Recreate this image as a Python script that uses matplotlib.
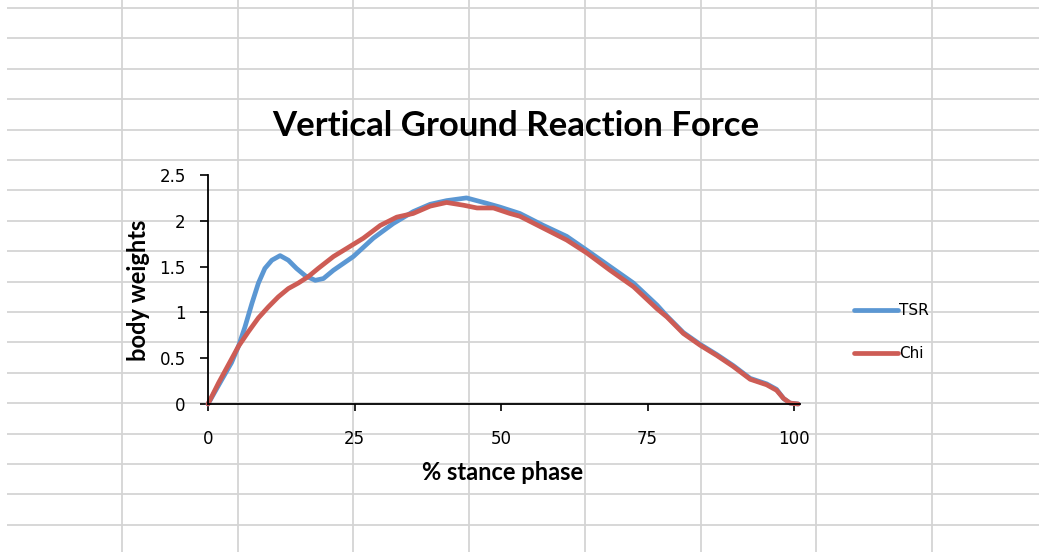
import matplotlib
matplotlib.use("Agg")
import matplotlib.pyplot as plt

# % stance phase vs body weights
tsr_x = [0, 2.3, 4.0, 5.2, 6.3, 7.5, 8.6, 9.7, 10.9, 12.3, 13.7, 15.1, 16.6, 18.3,
         19.7, 21.4, 24.8, 28.2, 31.6, 35.0, 37.9, 40.7, 44.1, 47.6, 49.8, 53.2,
         57.2, 61.2, 64.6, 68.6, 72.6, 76.6, 78.3, 81.1, 84.0, 86.8, 89.6, 92.5,
         95.3, 97.0, 98.2, 99.3, 100.7]
tsr_y = [0, 0.26, 0.45, 0.63, 0.84, 1.10, 1.32, 1.48, 1.57, 1.62, 1.57, 1.48, 1.40,
         1.35, 1.37, 1.46, 1.61, 1.81, 1.97, 2.10, 2.18, 2.22, 2.25, 2.19, 2.15, 2.08,
         1.95, 1.83, 1.68, 1.50, 1.32, 1.08, 0.96, 0.78, 0.65, 0.54, 0.42, 0.28, 0.22,
         0.16, 0.06, 0.01, 0]

chi_x = [0, 1.8, 3.5, 5.2, 6.9, 8.6, 10.3, 12.0, 13.7, 15.4, 17.1, 18.8, 21.4, 23.7,
         26.5, 29.4, 32.2, 35.0, 37.9, 40.7, 43.6, 45.9, 48.7, 51.5, 53.2, 57.2, 61.2,
         64.6, 68.6, 72.6, 76.6, 78.3, 81.1, 84.0, 86.8, 89.6, 92.5, 95.3, 97.0, 98.2,
         99.3, 100.7]
chi_y = [0, 0.23, 0.43, 0.63, 0.79, 0.94, 1.06, 1.17, 1.26, 1.32, 1.39, 1.48, 1.61,
         1.70, 1.81, 1.95, 2.04, 2.08, 2.16, 2.20, 2.17, 2.14, 2.14, 2.08, 2.05, 1.92,
         1.79, 1.65, 1.46, 1.28, 1.04, 0.95, 0.77, 0.64, 0.53, 0.41, 0.27, 0.21, 0.15,
         0.06, 0.01, 0]

x_ticks = [0, 25, 50, 75, 100]
y_ticks = [0, 0.5, 1, 1.5, 2, 2.5]
y_tick_labels = ["0", "0.5", "1", "1.5", "2", "2.5"]

W, H = 1039, 552
fig = plt.figure(figsize=(W / 100, H / 100), dpi=100)
fig.patch.set_facecolor("white")

# spreadsheet cells behind the transparent chart
bg = fig.add_axes([0, 0, 1, 1])
bg.set_xlim(0, W)
bg.set_ylim(H, 0)
bg.axis("off")
cell_h, cell_w = 30.4, 115.7
for k in range(18):
    bg.hlines(8 + cell_h * k, 7, W, color="#d4d4d4", lw=1.3)
for k in range(8):
    bg.vlines(122 + cell_w * k, 0, H, color="#d4d4d4", lw=1.3)

ax = fig.add_axes([208 / W, (H - 404) / H, 592 / W, 229 / H])
ax.patch.set_alpha(0)
line_kw = dict(lw=3.4, solid_capstyle="round", solid_joinstyle="round", clip_on=False)
ax.plot(tsr_x, tsr_y, color="#5b97d3", label="TSR", **line_kw)
ax.plot(chi_x, chi_y, color="#cd5c55", label="Chi", **line_kw)

ax.set_xlim(0, 101)
ax.set_ylim(0, 2.5)
ax.set_xticks(x_ticks)
ax.set_yticks(y_ticks)
ax.set_yticklabels(y_tick_labels)
for s in ["top", "right"]:
    ax.spines[s].set_visible(False)
for s in ["left", "bottom"]:
    ax.spines[s].set_linewidth(1.3)
    ax.spines[s].set_color("black")
ax.tick_params(axis="y", direction="out", length=6, width=1.2, pad=10, labelsize=12)
ax.tick_params(axis="x", direction="out", length=5, width=1.2, pad=14, labelsize=12)

ax.set_xlabel("% stance phase", fontfamily="Lato", fontweight="bold", fontsize=17)
ax.xaxis.set_label_coords((503 - 208) / 592, (404 - 461) / 229)
ax.set_ylabel("body weights", fontfamily="Lato", fontweight="bold", fontsize=17)
ax.yaxis.set_label_coords((150 - 208) / 592, (404 - 290) / 229)

fig.text(516 / W, 1 - 126 / H, "Vertical Ground Reaction Force", fontfamily="Lato",
         fontweight="bold", fontsize=25, ha="center", va="center")

ax.legend(loc="center left", bbox_to_anchor=(846 / W, 1 - 332 / H),
          bbox_transform=fig.transFigure, frameon=False, fontsize=11,
          handlelength=2.9, handletextpad=0.1, labelspacing=1.85, borderpad=0)

fig.savefig("out.png", dpi=100)
